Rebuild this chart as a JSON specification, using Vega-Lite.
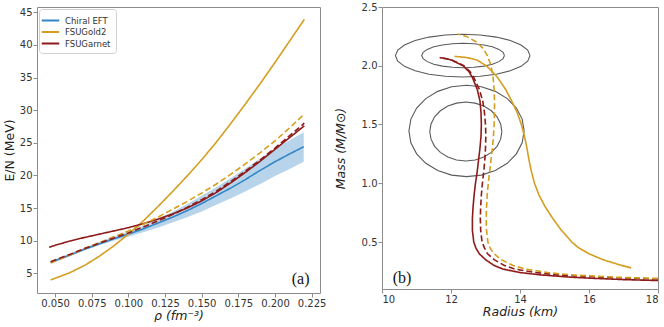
{
  "$schema": "https://vega.github.io/schema/vega-lite/v6.json",
  "background": "white",
  "padding": {"left": 2, "top": 1, "right": 2, "bottom": 0},
  "spacing": 6,
  "config": {
    "view": {"stroke": "#8c8c8c", "strokeWidth": 1},
    "axis": {"domain": false, "grid": false, "labelOverlap": false, "tickCount": 20, "tickColor": "#8c8c8c", "tickSize": 4, "labelFont": "DejaVu Sans", "labelFontSize": 10, "labelColor": "#333333", "titleFont": "DejaVu Sans", "titleFontSize": 12.5, "titleFontWeight": "normal", "titleColor": "#222222", "labelPadding": 1}
  },
  "resolve": {"scale": {"x": "independent", "y": "independent", "color": "independent", "strokeDash": "independent"}, "legend": {"color": "independent", "strokeDash": "independent"}},
  "datasets": {
    "band": [
      {"r": 0.047, "lo": 6.5, "hi": 6.9}, {"r": 0.06, "lo": 7.6, "hi": 8.0}, {"r": 0.07, "lo": 8.5, "hi": 8.9}, {"r": 0.08, "lo": 9.3, "hi": 9.8}, {"r": 0.09, "lo": 10.0, "hi": 10.6}, {"r": 0.1, "lo": 10.6, "hi": 11.4}, {"r": 0.11, "lo": 11.3, "hi": 12.3}, {"r": 0.12, "lo": 12.0, "hi": 13.3}, {"r": 0.13, "lo": 12.8, "hi": 14.4}, {"r": 0.14, "lo": 13.6, "hi": 15.6}, {"r": 0.15, "lo": 14.5, "hi": 16.9}, {"r": 0.16, "lo": 15.5, "hi": 18.2}, {"r": 0.17, "lo": 16.5, "hi": 19.6}, {"r": 0.18, "lo": 17.6, "hi": 21.1}, {"r": 0.19, "lo": 18.7, "hi": 22.6}, {"r": 0.2, "lo": 19.9, "hi": 24.1}, {"r": 0.21, "lo": 21.0, "hi": 25.4}, {"r": 0.2196, "lo": 22.1, "hi": 26.6}
    ],
    "eos": [
      {"m": "Chiral EFT", "s": "solid", "r": 0.047, "e": 6.7}, {"m": "Chiral EFT", "s": "solid", "r": 0.06, "e": 7.8}, {"m": "Chiral EFT", "s": "solid", "r": 0.07, "e": 8.7}, {"m": "Chiral EFT", "s": "solid", "r": 0.08, "e": 9.5}, {"m": "Chiral EFT", "s": "solid", "r": 0.09, "e": 10.3}, {"m": "Chiral EFT", "s": "solid", "r": 0.1, "e": 11.0}, {"m": "Chiral EFT", "s": "solid", "r": 0.11, "e": 11.8}, {"m": "Chiral EFT", "s": "solid", "r": 0.12, "e": 12.7}, {"m": "Chiral EFT", "s": "solid", "r": 0.13, "e": 13.6}, {"m": "Chiral EFT", "s": "solid", "r": 0.14, "e": 14.6}, {"m": "Chiral EFT", "s": "solid", "r": 0.15, "e": 15.7}, {"m": "Chiral EFT", "s": "solid", "r": 0.16, "e": 16.9}, {"m": "Chiral EFT", "s": "solid", "r": 0.17, "e": 18.1}, {"m": "Chiral EFT", "s": "solid", "r": 0.18, "e": 19.4}, {"m": "Chiral EFT", "s": "solid", "r": 0.19, "e": 20.8}, {"m": "Chiral EFT", "s": "solid", "r": 0.2, "e": 22.1}, {"m": "Chiral EFT", "s": "solid", "r": 0.21, "e": 23.3}, {"m": "Chiral EFT", "s": "solid", "r": 0.2196, "e": 24.4},
      {"m": "FSUGold2", "s": "solid", "r": 0.047, "e": 4.0}, {"m": "FSUGold2", "s": "solid", "r": 0.06, "e": 5.1}, {"m": "FSUGold2", "s": "solid", "r": 0.07, "e": 6.2}, {"m": "FSUGold2", "s": "solid", "r": 0.08, "e": 7.6}, {"m": "FSUGold2", "s": "solid", "r": 0.09, "e": 9.2}, {"m": "FSUGold2", "s": "solid", "r": 0.1, "e": 11.0}, {"m": "FSUGold2", "s": "solid", "r": 0.11, "e": 13.0}, {"m": "FSUGold2", "s": "solid", "r": 0.12, "e": 15.2}, {"m": "FSUGold2", "s": "solid", "r": 0.13, "e": 17.5}, {"m": "FSUGold2", "s": "solid", "r": 0.14, "e": 19.9}, {"m": "FSUGold2", "s": "solid", "r": 0.15, "e": 22.4}, {"m": "FSUGold2", "s": "solid", "r": 0.16, "e": 25.1}, {"m": "FSUGold2", "s": "solid", "r": 0.17, "e": 28.0}, {"m": "FSUGold2", "s": "solid", "r": 0.18, "e": 31.0}, {"m": "FSUGold2", "s": "solid", "r": 0.19, "e": 34.1}, {"m": "FSUGold2", "s": "solid", "r": 0.2, "e": 37.3}, {"m": "FSUGold2", "s": "solid", "r": 0.21, "e": 40.6}, {"m": "FSUGold2", "s": "solid", "r": 0.22, "e": 43.9},
      {"m": "FSUGarnet", "s": "solid", "r": 0.046, "e": 9.0}, {"m": "FSUGarnet", "s": "solid", "r": 0.05, "e": 9.3}, {"m": "FSUGarnet", "s": "solid", "r": 0.06, "e": 9.95}, {"m": "FSUGarnet", "s": "solid", "r": 0.07, "e": 10.5}, {"m": "FSUGarnet", "s": "solid", "r": 0.08, "e": 11.0}, {"m": "FSUGarnet", "s": "solid", "r": 0.09, "e": 11.5}, {"m": "FSUGarnet", "s": "solid", "r": 0.1, "e": 12.0}, {"m": "FSUGarnet", "s": "solid", "r": 0.11, "e": 12.6}, {"m": "FSUGarnet", "s": "solid", "r": 0.12, "e": 13.3}, {"m": "FSUGarnet", "s": "solid", "r": 0.13, "e": 14.1}, {"m": "FSUGarnet", "s": "solid", "r": 0.14, "e": 15.0}, {"m": "FSUGarnet", "s": "solid", "r": 0.15, "e": 16.1}, {"m": "FSUGarnet", "s": "solid", "r": 0.16, "e": 17.4}, {"m": "FSUGarnet", "s": "solid", "r": 0.17, "e": 18.9}, {"m": "FSUGarnet", "s": "solid", "r": 0.18, "e": 20.5}, {"m": "FSUGarnet", "s": "solid", "r": 0.19, "e": 22.2}, {"m": "FSUGarnet", "s": "solid", "r": 0.2, "e": 24.0}, {"m": "FSUGarnet", "s": "solid", "r": 0.21, "e": 25.8}, {"m": "FSUGarnet", "s": "solid", "r": 0.22, "e": 27.6},
      {"m": "FSUGold2", "s": "dashed", "r": 0.047, "e": 6.6}, {"m": "FSUGold2", "s": "dashed", "r": 0.06, "e": 7.8}, {"m": "FSUGold2", "s": "dashed", "r": 0.07, "e": 8.8}, {"m": "FSUGold2", "s": "dashed", "r": 0.08, "e": 9.7}, {"m": "FSUGold2", "s": "dashed", "r": 0.09, "e": 10.6}, {"m": "FSUGold2", "s": "dashed", "r": 0.1, "e": 11.5}, {"m": "FSUGold2", "s": "dashed", "r": 0.11, "e": 12.5}, {"m": "FSUGold2", "s": "dashed", "r": 0.12, "e": 13.6}, {"m": "FSUGold2", "s": "dashed", "r": 0.13, "e": 14.8}, {"m": "FSUGold2", "s": "dashed", "r": 0.14, "e": 16.0}, {"m": "FSUGold2", "s": "dashed", "r": 0.15, "e": 17.3}, {"m": "FSUGold2", "s": "dashed", "r": 0.16, "e": 18.7}, {"m": "FSUGold2", "s": "dashed", "r": 0.17, "e": 20.2}, {"m": "FSUGold2", "s": "dashed", "r": 0.18, "e": 21.8}, {"m": "FSUGold2", "s": "dashed", "r": 0.19, "e": 23.5}, {"m": "FSUGold2", "s": "dashed", "r": 0.2, "e": 25.3}, {"m": "FSUGold2", "s": "dashed", "r": 0.21, "e": 27.3}, {"m": "FSUGold2", "s": "dashed", "r": 0.22, "e": 29.4},
      {"m": "FSUGarnet", "s": "dashed", "r": 0.047, "e": 6.8}, {"m": "FSUGarnet", "s": "dashed", "r": 0.06, "e": 7.9}, {"m": "FSUGarnet", "s": "dashed", "r": 0.07, "e": 8.8}, {"m": "FSUGarnet", "s": "dashed", "r": 0.08, "e": 9.6}, {"m": "FSUGarnet", "s": "dashed", "r": 0.09, "e": 10.4}, {"m": "FSUGarnet", "s": "dashed", "r": 0.1, "e": 11.2}, {"m": "FSUGarnet", "s": "dashed", "r": 0.11, "e": 12.1}, {"m": "FSUGarnet", "s": "dashed", "r": 0.12, "e": 13.0}, {"m": "FSUGarnet", "s": "dashed", "r": 0.13, "e": 14.0}, {"m": "FSUGarnet", "s": "dashed", "r": 0.14, "e": 15.1}, {"m": "FSUGarnet", "s": "dashed", "r": 0.15, "e": 16.3}, {"m": "FSUGarnet", "s": "dashed", "r": 0.16, "e": 17.6}, {"m": "FSUGarnet", "s": "dashed", "r": 0.17, "e": 19.1}, {"m": "FSUGarnet", "s": "dashed", "r": 0.18, "e": 20.7}, {"m": "FSUGarnet", "s": "dashed", "r": 0.19, "e": 22.4}, {"m": "FSUGarnet", "s": "dashed", "r": 0.2, "e": 24.2}, {"m": "FSUGarnet", "s": "dashed", "r": 0.21, "e": 26.1}, {"m": "FSUGarnet", "s": "dashed", "r": 0.22, "e": 28.0}
    ],
    "mr": [
      {"m": "FSUGarnet", "s": "solid", "M": 2.07, "R": 11.67}, {"m": "FSUGarnet", "s": "solid", "M": 2.06, "R": 11.85}, {"m": "FSUGarnet", "s": "solid", "M": 2.05, "R": 12.0}, {"m": "FSUGarnet", "s": "solid", "M": 2.0, "R": 12.35}, {"m": "FSUGarnet", "s": "solid", "M": 1.95, "R": 12.52}, {"m": "FSUGarnet", "s": "solid", "M": 1.9, "R": 12.62}, {"m": "FSUGarnet", "s": "solid", "M": 1.8, "R": 12.76}, {"m": "FSUGarnet", "s": "solid", "M": 1.7, "R": 12.84}, {"m": "FSUGarnet", "s": "solid", "M": 1.6, "R": 12.87}, {"m": "FSUGarnet", "s": "solid", "M": 1.5, "R": 12.88}, {"m": "FSUGarnet", "s": "solid", "M": 1.4, "R": 12.87}, {"m": "FSUGarnet", "s": "solid", "M": 1.3, "R": 12.84}, {"m": "FSUGarnet", "s": "solid", "M": 1.2, "R": 12.8}, {"m": "FSUGarnet", "s": "solid", "M": 1.1, "R": 12.76}, {"m": "FSUGarnet", "s": "solid", "M": 1.0, "R": 12.71}, {"m": "FSUGarnet", "s": "solid", "M": 0.9, "R": 12.67}, {"m": "FSUGarnet", "s": "solid", "M": 0.8, "R": 12.64}, {"m": "FSUGarnet", "s": "solid", "M": 0.7, "R": 12.62}, {"m": "FSUGarnet", "s": "solid", "M": 0.6, "R": 12.62}, {"m": "FSUGarnet", "s": "solid", "M": 0.5, "R": 12.66}, {"m": "FSUGarnet", "s": "solid", "M": 0.45, "R": 12.72}, {"m": "FSUGarnet", "s": "solid", "M": 0.4, "R": 12.82}, {"m": "FSUGarnet", "s": "solid", "M": 0.35, "R": 13.0}, {"m": "FSUGarnet", "s": "solid", "M": 0.3, "R": 13.25}, {"m": "FSUGarnet", "s": "solid", "M": 0.27, "R": 13.5}, {"m": "FSUGarnet", "s": "solid", "M": 0.24, "R": 14.0}, {"m": "FSUGarnet", "s": "solid", "M": 0.22, "R": 14.6}, {"m": "FSUGarnet", "s": "solid", "M": 0.2, "R": 15.5}, {"m": "FSUGarnet", "s": "solid", "M": 0.19, "R": 16.2}, {"m": "FSUGarnet", "s": "solid", "M": 0.18, "R": 17.0}, {"m": "FSUGarnet", "s": "solid", "M": 0.172, "R": 18.0},
      {"m": "FSUGarnet", "s": "dashed", "M": 2.07, "R": 11.7}, {"m": "FSUGarnet", "s": "dashed", "M": 2.05, "R": 12.02}, {"m": "FSUGarnet", "s": "dashed", "M": 2.0, "R": 12.37}, {"m": "FSUGarnet", "s": "dashed", "M": 1.95, "R": 12.55}, {"m": "FSUGarnet", "s": "dashed", "M": 1.9, "R": 12.66}, {"m": "FSUGarnet", "s": "dashed", "M": 1.8, "R": 12.82}, {"m": "FSUGarnet", "s": "dashed", "M": 1.7, "R": 12.92}, {"m": "FSUGarnet", "s": "dashed", "M": 1.6, "R": 12.97}, {"m": "FSUGarnet", "s": "dashed", "M": 1.5, "R": 13.0}, {"m": "FSUGarnet", "s": "dashed", "M": 1.4, "R": 13.01}, {"m": "FSUGarnet", "s": "dashed", "M": 1.3, "R": 13.0}, {"m": "FSUGarnet", "s": "dashed", "M": 1.2, "R": 12.98}, {"m": "FSUGarnet", "s": "dashed", "M": 1.1, "R": 12.95}, {"m": "FSUGarnet", "s": "dashed", "M": 1.0, "R": 12.91}, {"m": "FSUGarnet", "s": "dashed", "M": 0.9, "R": 12.88}, {"m": "FSUGarnet", "s": "dashed", "M": 0.8, "R": 12.86}, {"m": "FSUGarnet", "s": "dashed", "M": 0.7, "R": 12.85}, {"m": "FSUGarnet", "s": "dashed", "M": 0.6, "R": 12.86}, {"m": "FSUGarnet", "s": "dashed", "M": 0.5, "R": 12.9}, {"m": "FSUGarnet", "s": "dashed", "M": 0.45, "R": 12.97}, {"m": "FSUGarnet", "s": "dashed", "M": 0.4, "R": 13.06}, {"m": "FSUGarnet", "s": "dashed", "M": 0.35, "R": 13.25}, {"m": "FSUGarnet", "s": "dashed", "M": 0.3, "R": 13.55}, {"m": "FSUGarnet", "s": "dashed", "M": 0.27, "R": 13.85}, {"m": "FSUGarnet", "s": "dashed", "M": 0.24, "R": 14.45}, {"m": "FSUGarnet", "s": "dashed", "M": 0.22, "R": 15.1}, {"m": "FSUGarnet", "s": "dashed", "M": 0.2, "R": 16.4}, {"m": "FSUGarnet", "s": "dashed", "M": 0.19, "R": 17.4}, {"m": "FSUGarnet", "s": "dashed", "M": 0.185, "R": 18.0},
      {"m": "FSUGold2", "s": "dashed", "M": 2.27, "R": 12.19}, {"m": "FSUGold2", "s": "dashed", "M": 2.25, "R": 12.45}, {"m": "FSUGold2", "s": "dashed", "M": 2.2, "R": 12.75}, {"m": "FSUGold2", "s": "dashed", "M": 2.15, "R": 12.92}, {"m": "FSUGold2", "s": "dashed", "M": 2.1, "R": 13.03}, {"m": "FSUGold2", "s": "dashed", "M": 2.05, "R": 13.1}, {"m": "FSUGold2", "s": "dashed", "M": 2.0, "R": 13.16}, {"m": "FSUGold2", "s": "dashed", "M": 1.9, "R": 13.22}, {"m": "FSUGold2", "s": "dashed", "M": 1.8, "R": 13.25}, {"m": "FSUGold2", "s": "dashed", "M": 1.7, "R": 13.26}, {"m": "FSUGold2", "s": "dashed", "M": 1.6, "R": 13.26}, {"m": "FSUGold2", "s": "dashed", "M": 1.5, "R": 13.25}, {"m": "FSUGold2", "s": "dashed", "M": 1.4, "R": 13.23}, {"m": "FSUGold2", "s": "dashed", "M": 1.3, "R": 13.2}, {"m": "FSUGold2", "s": "dashed", "M": 1.2, "R": 13.16}, {"m": "FSUGold2", "s": "dashed", "M": 1.1, "R": 13.12}, {"m": "FSUGold2", "s": "dashed", "M": 1.0, "R": 13.08}, {"m": "FSUGold2", "s": "dashed", "M": 0.9, "R": 13.05}, {"m": "FSUGold2", "s": "dashed", "M": 0.8, "R": 13.03}, {"m": "FSUGold2", "s": "dashed", "M": 0.7, "R": 13.02}, {"m": "FSUGold2", "s": "dashed", "M": 0.6, "R": 13.03}, {"m": "FSUGold2", "s": "dashed", "M": 0.5, "R": 13.07}, {"m": "FSUGold2", "s": "dashed", "M": 0.45, "R": 13.13}, {"m": "FSUGold2", "s": "dashed", "M": 0.4, "R": 13.25}, {"m": "FSUGold2", "s": "dashed", "M": 0.35, "R": 13.45}, {"m": "FSUGold2", "s": "dashed", "M": 0.3, "R": 13.8}, {"m": "FSUGold2", "s": "dashed", "M": 0.27, "R": 14.15}, {"m": "FSUGold2", "s": "dashed", "M": 0.24, "R": 14.8}, {"m": "FSUGold2", "s": "dashed", "M": 0.22, "R": 15.5}, {"m": "FSUGold2", "s": "dashed", "M": 0.2, "R": 16.8}, {"m": "FSUGold2", "s": "dashed", "M": 0.195, "R": 17.4}, {"m": "FSUGold2", "s": "dashed", "M": 0.19, "R": 18.0},
      {"m": "FSUGold2", "s": "solid", "M": 2.08, "R": 12.1}, {"m": "FSUGold2", "s": "solid", "M": 2.07, "R": 12.45}, {"m": "FSUGold2", "s": "solid", "M": 2.05, "R": 12.75}, {"m": "FSUGold2", "s": "solid", "M": 2.0, "R": 13.02}, {"m": "FSUGold2", "s": "solid", "M": 1.95, "R": 13.2}, {"m": "FSUGold2", "s": "solid", "M": 1.9, "R": 13.35}, {"m": "FSUGold2", "s": "solid", "M": 1.8, "R": 13.58}, {"m": "FSUGold2", "s": "solid", "M": 1.7, "R": 13.76}, {"m": "FSUGold2", "s": "solid", "M": 1.6, "R": 13.92}, {"m": "FSUGold2", "s": "solid", "M": 1.5, "R": 14.04}, {"m": "FSUGold2", "s": "solid", "M": 1.4, "R": 14.13}, {"m": "FSUGold2", "s": "solid", "M": 1.3, "R": 14.2}, {"m": "FSUGold2", "s": "solid", "M": 1.2, "R": 14.26}, {"m": "FSUGold2", "s": "solid", "M": 1.1, "R": 14.33}, {"m": "FSUGold2", "s": "solid", "M": 1.0, "R": 14.42}, {"m": "FSUGold2", "s": "solid", "M": 0.9, "R": 14.55}, {"m": "FSUGold2", "s": "solid", "M": 0.8, "R": 14.73}, {"m": "FSUGold2", "s": "solid", "M": 0.7, "R": 14.95}, {"m": "FSUGold2", "s": "solid", "M": 0.6, "R": 15.2}, {"m": "FSUGold2", "s": "solid", "M": 0.5, "R": 15.5}, {"m": "FSUGold2", "s": "solid", "M": 0.45, "R": 15.7}, {"m": "FSUGold2", "s": "solid", "M": 0.4, "R": 16.0}, {"m": "FSUGold2", "s": "solid", "M": 0.35, "R": 16.4}, {"m": "FSUGold2", "s": "solid", "M": 0.3, "R": 16.95}, {"m": "FSUGold2", "s": "solid", "M": 0.28, "R": 17.22}
    ],
    "ell": [
      {"e": 1, "k": 0, "R": 14.29, "M": 2.086}, {"e": 1, "k": 1, "R": 14.224, "M": 2.133}, {"e": 1, "k": 2, "R": 14.029, "M": 2.177}, {"e": 1, "k": 3, "R": 13.719, "M": 2.215}, {"e": 1, "k": 4, "R": 13.315, "M": 2.244}, {"e": 1, "k": 5, "R": 12.845, "M": 2.262}, {"e": 1, "k": 6, "R": 12.34, "M": 2.268}, {"e": 1, "k": 7, "R": 11.835, "M": 2.262}, {"e": 1, "k": 8, "R": 11.365, "M": 2.244}, {"e": 1, "k": 9, "R": 10.961, "M": 2.215}, {"e": 1, "k": 10, "R": 10.651, "M": 2.177}, {"e": 1, "k": 11, "R": 10.456, "M": 2.133}, {"e": 1, "k": 12, "R": 10.39, "M": 2.086}, {"e": 1, "k": 13, "R": 10.456, "M": 2.039}, {"e": 1, "k": 14, "R": 10.651, "M": 1.995}, {"e": 1, "k": 15, "R": 10.961, "M": 1.957}, {"e": 1, "k": 16, "R": 11.365, "M": 1.928}, {"e": 1, "k": 17, "R": 11.835, "M": 1.91}, {"e": 1, "k": 18, "R": 12.34, "M": 1.904}, {"e": 1, "k": 19, "R": 12.845, "M": 1.91}, {"e": 1, "k": 20, "R": 13.315, "M": 1.928}, {"e": 1, "k": 21, "R": 13.719, "M": 1.957}, {"e": 1, "k": 22, "R": 14.029, "M": 1.995}, {"e": 1, "k": 23, "R": 14.224, "M": 2.039}, {"e": 1, "k": 24, "R": 14.29, "M": 2.086},
      {"e": 2, "k": 0, "R": 13.55, "M": 2.087}, {"e": 2, "k": 1, "R": 13.509, "M": 2.114}, {"e": 2, "k": 2, "R": 13.389, "M": 2.139}, {"e": 2, "k": 3, "R": 13.199, "M": 2.161}, {"e": 2, "k": 4, "R": 12.95, "M": 2.177}, {"e": 2, "k": 5, "R": 12.661, "M": 2.187}, {"e": 2, "k": 6, "R": 12.35, "M": 2.191}, {"e": 2, "k": 7, "R": 12.039, "M": 2.187}, {"e": 2, "k": 8, "R": 11.75, "M": 2.177}, {"e": 2, "k": 9, "R": 11.501, "M": 2.161}, {"e": 2, "k": 10, "R": 11.311, "M": 2.139}, {"e": 2, "k": 11, "R": 11.191, "M": 2.114}, {"e": 2, "k": 12, "R": 11.15, "M": 2.087}, {"e": 2, "k": 13, "R": 11.191, "M": 2.06}, {"e": 2, "k": 14, "R": 11.311, "M": 2.035}, {"e": 2, "k": 15, "R": 11.501, "M": 2.013}, {"e": 2, "k": 16, "R": 11.75, "M": 1.997}, {"e": 2, "k": 17, "R": 12.039, "M": 1.987}, {"e": 2, "k": 18, "R": 12.35, "M": 1.983}, {"e": 2, "k": 19, "R": 12.661, "M": 1.987}, {"e": 2, "k": 20, "R": 12.95, "M": 1.997}, {"e": 2, "k": 21, "R": 13.199, "M": 2.013}, {"e": 2, "k": 22, "R": 13.389, "M": 2.035}, {"e": 2, "k": 23, "R": 13.509, "M": 2.06}, {"e": 2, "k": 24, "R": 13.55, "M": 2.087},
      {"e": 3, "k": 0, "R": 14.12, "M": 1.445}, {"e": 3, "k": 1, "R": 14.063, "M": 1.546}, {"e": 3, "k": 2, "R": 13.896, "M": 1.64}, {"e": 3, "k": 3, "R": 13.631, "M": 1.72}, {"e": 3, "k": 4, "R": 13.285, "M": 1.782}, {"e": 3, "k": 5, "R": 12.882, "M": 1.821}, {"e": 3, "k": 6, "R": 12.45, "M": 1.834}, {"e": 3, "k": 7, "R": 12.018, "M": 1.821}, {"e": 3, "k": 8, "R": 11.615, "M": 1.782}, {"e": 3, "k": 9, "R": 11.269, "M": 1.72}, {"e": 3, "k": 10, "R": 11.004, "M": 1.64}, {"e": 3, "k": 11, "R": 10.837, "M": 1.546}, {"e": 3, "k": 12, "R": 10.78, "M": 1.445}, {"e": 3, "k": 13, "R": 10.837, "M": 1.344}, {"e": 3, "k": 14, "R": 11.004, "M": 1.25}, {"e": 3, "k": 15, "R": 11.269, "M": 1.17}, {"e": 3, "k": 16, "R": 11.615, "M": 1.108}, {"e": 3, "k": 17, "R": 12.018, "M": 1.069}, {"e": 3, "k": 18, "R": 12.45, "M": 1.056}, {"e": 3, "k": 19, "R": 12.882, "M": 1.069}, {"e": 3, "k": 20, "R": 13.285, "M": 1.108}, {"e": 3, "k": 21, "R": 13.631, "M": 1.17}, {"e": 3, "k": 22, "R": 13.896, "M": 1.25}, {"e": 3, "k": 23, "R": 14.063, "M": 1.344}, {"e": 3, "k": 24, "R": 14.12, "M": 1.445},
      {"e": 4, "k": 0, "R": 13.475, "M": 1.44}, {"e": 4, "k": 1, "R": 13.439, "M": 1.505}, {"e": 4, "k": 2, "R": 13.335, "M": 1.566}, {"e": 4, "k": 3, "R": 13.169, "M": 1.617}, {"e": 4, "k": 4, "R": 12.953, "M": 1.657}, {"e": 4, "k": 5, "R": 12.7, "M": 1.682}, {"e": 4, "k": 6, "R": 12.43, "M": 1.691}, {"e": 4, "k": 7, "R": 12.16, "M": 1.682}, {"e": 4, "k": 8, "R": 11.907, "M": 1.657}, {"e": 4, "k": 9, "R": 11.691, "M": 1.617}, {"e": 4, "k": 10, "R": 11.525, "M": 1.566}, {"e": 4, "k": 11, "R": 11.421, "M": 1.505}, {"e": 4, "k": 12, "R": 11.385, "M": 1.44}, {"e": 4, "k": 13, "R": 11.421, "M": 1.375}, {"e": 4, "k": 14, "R": 11.525, "M": 1.314}, {"e": 4, "k": 15, "R": 11.691, "M": 1.263}, {"e": 4, "k": 16, "R": 11.907, "M": 1.223}, {"e": 4, "k": 17, "R": 12.16, "M": 1.198}, {"e": 4, "k": 18, "R": 12.43, "M": 1.189}, {"e": 4, "k": 19, "R": 12.7, "M": 1.198}, {"e": 4, "k": 20, "R": 12.953, "M": 1.223}, {"e": 4, "k": 21, "R": 13.169, "M": 1.263}, {"e": 4, "k": 22, "R": 13.335, "M": 1.314}, {"e": 4, "k": 23, "R": 13.439, "M": 1.375}, {"e": 4, "k": 24, "R": 13.475, "M": 1.44}
    ],
    "labA": [{"x": 0.2175, "y": 4.2, "t": "(a)"}],
    "labB": [{"x": 10.58, "y": 0.196, "t": "(b)"}]
  },
  "hconcat": [
    {
      "width": 283,
      "height": 286,
      "layer": [
        {
          "data": {"name": "band"},
          "mark": {"type": "area", "color": "#b8d4ea", "opacity": 1},
          "encoding": {
            "x": {"field": "r", "type": "quantitative", "scale": {"domain": [0.0377, 0.2307], "nice": false, "zero": false},
                  "axis": {"values": [0.05, 0.075, 0.1, 0.125, 0.15, 0.175, 0.2, 0.225], "tickCount": 20, "format": ".3f", "titleFontStyle": "italic", "titlePadding": 1}, "title": "ρ (fm⁻³)"},
            "y": {"field": "lo", "type": "quantitative", "scale": {"domain": [2.0, 45.8], "nice": false, "zero": false},
                  "axis": {"values": [5, 10, 15, 20, 25, 30, 35, 40, 45], "tickCount": 20, "format": "d", "titlePadding": 3}, "title": "E/N (MeV)"},
            "y2": {"field": "hi"}
          }
        },
        {
          "data": {"name": "eos"},
          "mark": {"type": "line", "strokeWidth": 1.6},
          "encoding": {
            "x": {"field": "r", "type": "quantitative"},
            "y": {"field": "e", "type": "quantitative"},
            "color": {"field": "m", "type": "nominal", "sort": null,
                      "scale": {"domain": ["Chiral EFT", "FSUGold2", "FSUGarnet"], "range": ["#3385c6", "#d49e20", "#8e1b1b"]},
                      "legend": {"title": null, "orient": "top-left", "offset": 2, "symbolType": "M-1.6,0H1.6", "symbolSize": 120, "symbolStrokeWidth": 2, "symbolFillColor": "transparent", "labelFontSize": 8.5, "labelFont": "DejaVu Sans", "labelColor": "#333333", "strokeColor": "#d0d0d0", "fillColor": "white", "padding": 5, "cornerRadius": 3, "rowPadding": 0.5, "labelOffset": 8}},
            "strokeDash": {"field": "s", "type": "nominal", "scale": {"domain": ["solid", "dashed"], "range": [[1, 0], [6, 3]]}, "legend": null}
          }
        },
        {
          "data": {"name": "labA"},
          "mark": {"type": "text", "font": "Liberation Serif", "fontSize": 16, "color": "#111111"},
          "encoding": {
            "x": {"field": "x", "type": "quantitative"},
            "y": {"field": "y", "type": "quantitative"},
            "text": {"field": "t"}
          }
        }
      ]
    },
    {
      "width": 276,
      "height": 282,
      "layer": [
        {
          "data": {"name": "ell"},
          "mark": {"type": "line", "color": "#5a5a5a", "strokeWidth": 1.1},
          "encoding": {
            "x": {"field": "R", "type": "quantitative", "scale": {"domain": [10, 18], "nice": false, "zero": false},
                  "axis": {"values": [10, 12, 14, 16, 18], "tickCount": 20, "format": "d", "titleFontStyle": "italic", "titlePadding": 1}, "title": "Radius (km)"},
            "y": {"field": "M", "type": "quantitative", "scale": {"domain": [0.1, 2.5], "nice": false, "zero": false},
                  "axis": {"values": [0.5, 1.0, 1.5, 2.0, 2.5], "tickCount": 20, "format": ".1f", "titleFontStyle": "italic", "titlePadding": 14}, "title": "Mass (M/M⊙)"},
            "detail": {"field": "e", "type": "nominal"},
            "order": {"field": "k", "type": "quantitative"}
          }
        },
        {
          "data": {"name": "mr"},
          "mark": {"type": "line", "strokeWidth": 1.6, "clip": true},
          "encoding": {
            "x": {"field": "R", "type": "quantitative"},
            "y": {"field": "M", "type": "quantitative"},
            "color": {"field": "m", "type": "nominal", "scale": {"domain": ["Chiral EFT", "FSUGold2", "FSUGarnet"], "range": ["#3385c6", "#d49e20", "#8e1b1b"]}, "legend": null},
            "strokeDash": {"field": "s", "type": "nominal", "scale": {"domain": ["solid", "dashed"], "range": [[1, 0], [6, 3]]}, "legend": null},
            "order": {"field": "M", "type": "quantitative"}
          }
        },
        {
          "data": {"name": "labB"},
          "mark": {"type": "text", "font": "Liberation Serif", "fontSize": 16, "color": "#111111"},
          "encoding": {
            "x": {"field": "x", "type": "quantitative"},
            "y": {"field": "y", "type": "quantitative"},
            "text": {"field": "t"}
          }
        }
      ]
    }
  ]
}
